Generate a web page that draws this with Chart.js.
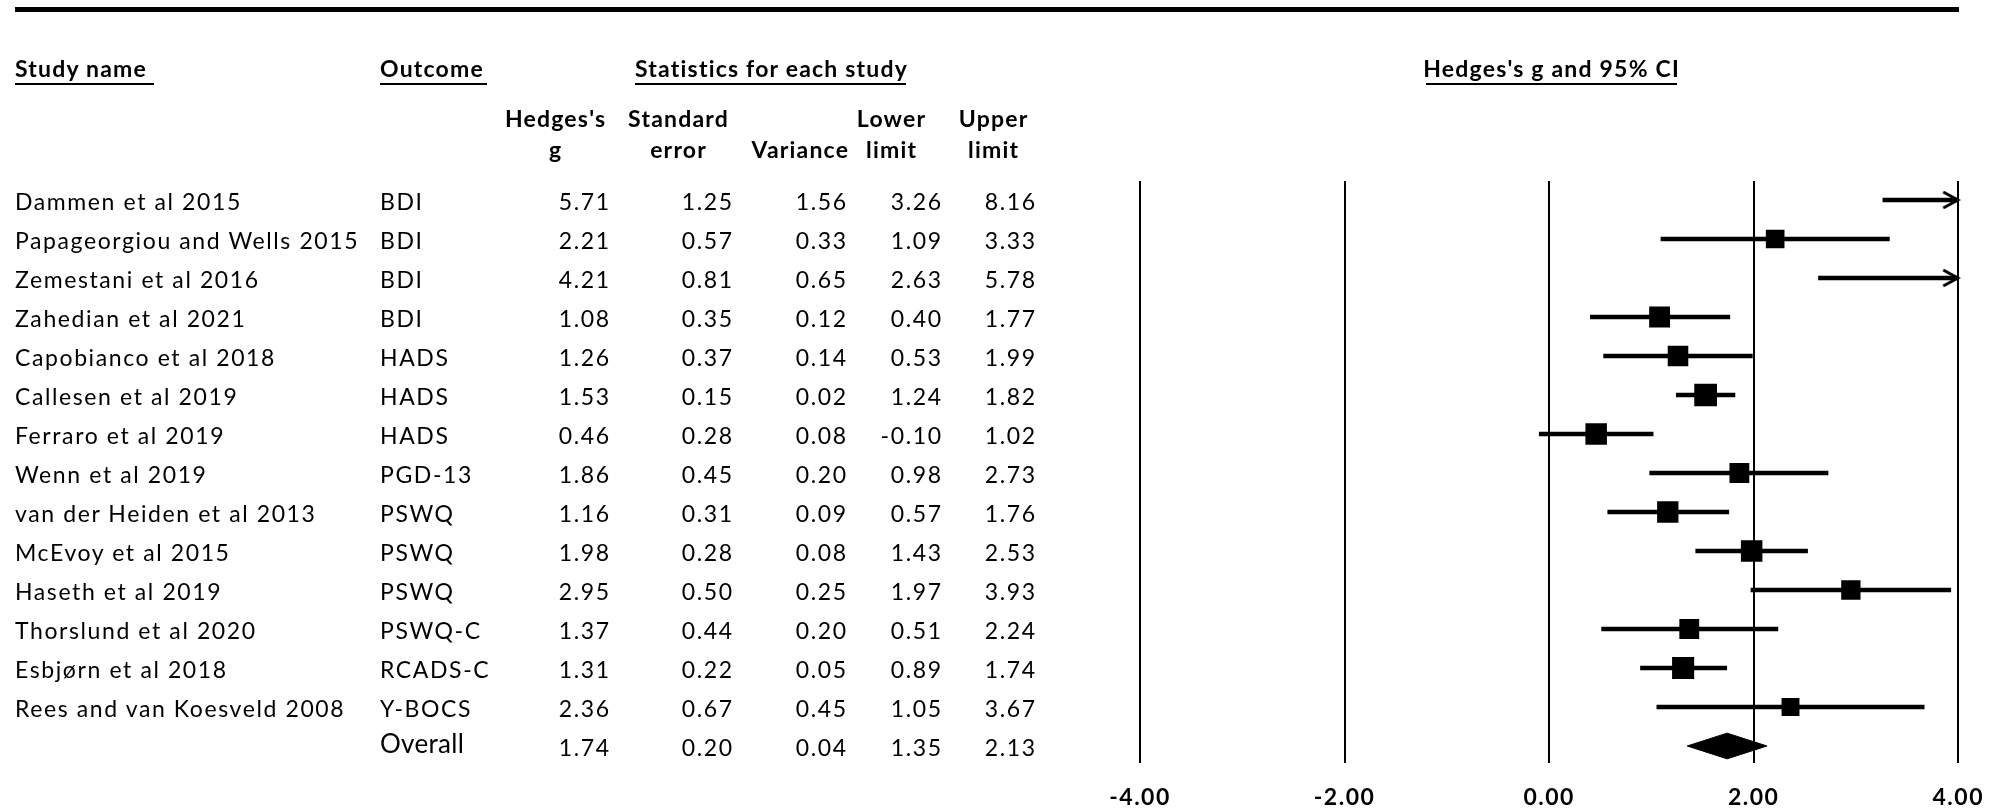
<!DOCTYPE html>
<html>
<head>
<meta charset="utf-8">
<title>Hedges's g and 95% CI</title>
<script src="https://cdn.jsdelivr.net/npm/chart.js"></script>
<style>
  body { margin: 0; background: #fff; }
  #wrap { position: relative; width: 2002px; height: 810px; overflow: hidden; font-family: Lato, sans-serif; color: #000; }
  #chart { position: absolute; left: 0; top: 0; }
  .t { position: absolute; white-space: nowrap; }
  .b { font-weight: 700; }
  .rule { position: absolute; background: #000; }
</style>
</head>
<body>
<div id="wrap">
  <canvas id="chart" width="2002" height="810"></canvas>
  <div id="table"></div>
</div>
<script>
// study rows
const studies = ["Dammen et al 2015", "Papageorgiou and Wells 2015", "Zemestani et al 2016", "Zahedian et al 2021",
  "Capobianco et al 2018", "Callesen et al 2019", "Ferraro et al 2019", "Wenn et al 2019", "van der Heiden et al 2013",
  "McEvoy et al 2015", "Haseth et al 2019", "Thorslund et al 2020", "Esbjørn et al 2018", "Rees and van Koesveld 2008"];
const outcomes = ["BDI", "BDI", "BDI", "BDI", "HADS", "HADS", "HADS", "PGD-13", "PSWQ", "PSWQ", "PSWQ", "PSWQ-C", "RCADS-C", "Y-BOCS"];
const hedgesG    = [5.71, 2.21, 4.21, 1.08, 1.26, 1.53, 0.46, 1.86, 1.16, 1.98, 2.95, 1.37, 1.31, 2.36];
const stdError   = [1.25, 0.57, 0.81, 0.35, 0.37, 0.15, 0.28, 0.45, 0.31, 0.28, 0.50, 0.44, 0.22, 0.67];
const variance   = [1.56, 0.33, 0.65, 0.12, 0.14, 0.02, 0.08, 0.20, 0.09, 0.08, 0.25, 0.20, 0.05, 0.45];
const lowerLimit = [3.26, 1.09, 2.63, 0.40, 0.53, 1.24, -0.10, 0.98, 0.57, 1.43, 1.97, 0.51, 0.89, 1.05];
const upperLimit = [8.16, 3.33, 5.78, 1.77, 1.99, 1.82, 1.02, 2.73, 1.76, 2.53, 3.93, 2.24, 1.74, 3.67];

// summary row
const overallLabel = "Overall";
const overallG = 1.74, overallSE = 0.20, overallVar = 0.04, overallLower = 1.35, overallUpper = 2.13;

const xTicks = [-4, -2, 0, 2, 4];
const xMin = -4, xMax = 4;
const tau2 = 0.37; // between-study variance, used for box weights

const FONT = 'Lato';
const nRows = studies.length + 1;
const overallRow = studies.length;

// open arrow head for CIs running past the axis
function makeArrow() {
  const c = document.createElement('canvas');
  c.width = 40; c.height = 24;
  const g = c.getContext('2d');
  g.strokeStyle = '#000';
  g.lineWidth = 3;
  g.beginPath();
  g.moveTo(5, 4); g.lineTo(19.5, 12); g.lineTo(5, 20);
  g.stroke();
  return c;
}
const arrowImg = makeArrow();

const datasets = [];

// confidence interval lines
studies.forEach((s, i) => {
  datasets.push({
    data: [{ x: Math.max(lowerLimit[i], xMin), y: i }, { x: Math.min(upperLimit[i], xMax), y: i }],
    borderColor: '#000',
    borderWidth: 4.5,
    borderCapStyle: 'butt',
    pointRadius: 0,
    showLine: true
  });
});

// study boxes, size from random-effects weight
const weights = variance.map(v => 1 / (v + tau2));
datasets.push({
  data: hedgesG.map((g, i) => (g <= xMax ? { x: g, y: i } : { x: null, y: null })),
  showLine: false,
  pointStyle: 'rect',
  pointRadius: weights.map(w => (13.5 + 3.6 * w) / Math.SQRT2),
  pointBorderWidth: 0,
  pointBackgroundColor: '#000'
});

// arrows where the upper limit is off scale
datasets.push({
  data: upperLimit.map((u, i) => (u > xMax ? { x: xMax, y: i } : { x: null, y: null })),
  showLine: false,
  pointStyle: arrowImg,
  pointRadius: 5,
  clip: false
});

// summary diamond
const dh = 0.33;
datasets.push({
  data: [
    { x: overallLower, y: overallRow }, { x: overallG, y: overallRow - dh },
    { x: overallUpper, y: overallRow }, { x: overallG, y: overallRow + dh },
    { x: overallLower, y: overallRow }
  ],
  showLine: true,
  borderColor: '#000',
  borderWidth: 1,
  backgroundColor: '#000',
  fill: 'shape',
  pointRadius: 0,
  tension: 0
});

// slightly wider tick lettering, like the original
const tickSpacing = {
  id: 'tickSpacing',
  beforeDraw(c) { c.ctx.letterSpacing = '1.5px'; }
};

const chart = new Chart(document.getElementById('chart'), {
  type: 'line',
  data: { datasets: datasets },
  plugins: [tickSpacing],
  options: {
    responsive: false,
    animation: false,
    events: [],
    layout: { padding: { left: 1140, right: 43, top: 181, bottom: 0 } },
    plugins: { legend: { display: false }, tooltip: { enabled: false } },
    scales: {
      x: {
        type: 'linear',
        min: xMin,
        max: xMax,
        afterBuildTicks: (scale) => { scale.ticks = xTicks.map(v => ({ value: v })); },
        afterFit: (scale) => { scale.height = 47; },
        grid: { color: '#000', lineWidth: 2, drawTicks: false },
        border: { display: false },
        ticks: {
          color: '#000',
          padding: 21,
          maxRotation: 0,
          font: { family: FONT, size: 23, weight: 'bold' },
          callback: (v) => v.toFixed(2)
        }
      },
      y: {
        type: 'linear',
        display: false,
        reverse: true,
        min: -0.487,
        max: nRows - 1 + 0.436
      }
    }
  }
});

// ---- table text ----
const table = document.getElementById('table');
function put(text, x, baseline, align, size, bold, ls) {
  const el = document.createElement('div');
  el.className = 't' + (bold ? ' b' : '');
  el.textContent = text;
  el.style.fontSize = size + 'px';
  el.style.lineHeight = size + 'px';
  el.style.letterSpacing = ls + 'px';
  el.style.top = (baseline - 0.887 * size) + 'px';
  if (align === 'left') {
    el.style.left = x + 'px';
  } else if (align === 'right') {
    el.style.left = (x + ls - 400) + 'px'; el.style.width = '400px'; el.style.textAlign = 'right';
  } else {
    el.style.left = (x + ls / 2 - 300) + 'px'; el.style.width = '600px'; el.style.textAlign = 'center';
  }
  table.appendChild(el);
}
function rule(x, y, w, h) {
  const el = document.createElement('div');
  el.className = 'rule';
  el.style.left = x + 'px'; el.style.top = y + 'px';
  el.style.width = w + 'px'; el.style.height = h + 'px';
  table.appendChild(el);
}

rule(15, 7, 1944, 5);

// headers
const HS = 23, HL = 1.2;
put("Study name", 15, 77, 'left', HS, true, HL);   rule(15, 83, 139, 1.5);
put("Outcome", 380, 77, 'left', HS, true, HL);     rule(380, 83, 107, 1.5);
put("Statistics for each study", 635, 77, 'left', HS, true, HL); rule(635, 83, 271, 1.5);
put("Hedges's g and 95% CI", 1551, 77, 'center', HS, true, HL);  rule(1426, 83, 251, 1.5);

put("Hedges's", 555, 127, 'center', HS, true, HL); put("g", 555, 158, 'center', HS, true, HL);
put("Standard", 678, 127, 'center', HS, true, HL); put("error", 678, 158, 'center', HS, true, HL);
put("Variance", 848, 158, 'right', HS, true, HL);
put("Lower", 891, 127, 'center', HS, true, HL);    put("limit", 891, 158, 'center', HS, true, HL);
put("Upper", 993, 127, 'center', HS, true, HL);    put("limit", 993, 158, 'center', HS, true, HL);

const BS = 23, BL = 1.6;
const colRight = [609, 732, 846, 941, 1035];
const yScale = chart.scales.y;
studies.forEach((s, i) => {
  const base = yScale.getPixelForValue(i) + 10;
  put(s, 15, base, 'left', BS, false, BL);
  put(outcomes[i], 380, base, 'left', BS, false, BL);
  [hedgesG[i], stdError[i], variance[i], lowerLimit[i], upperLimit[i]].forEach((v, k) => {
    put(v.toFixed(2), colRight[k], base, 'right', BS, false, BL);
  });
});
const ob = yScale.getPixelForValue(overallRow) + 10;
put(overallLabel, 380, ob - 3, 'left', 26, false, 0.3);
[overallG, overallSE, overallVar, overallLower, overallUpper].forEach((v, k) => {
  put(v.toFixed(2), colRight[k], ob, 'right', BS, false, BL);
});
</script>
</body>
</html>
